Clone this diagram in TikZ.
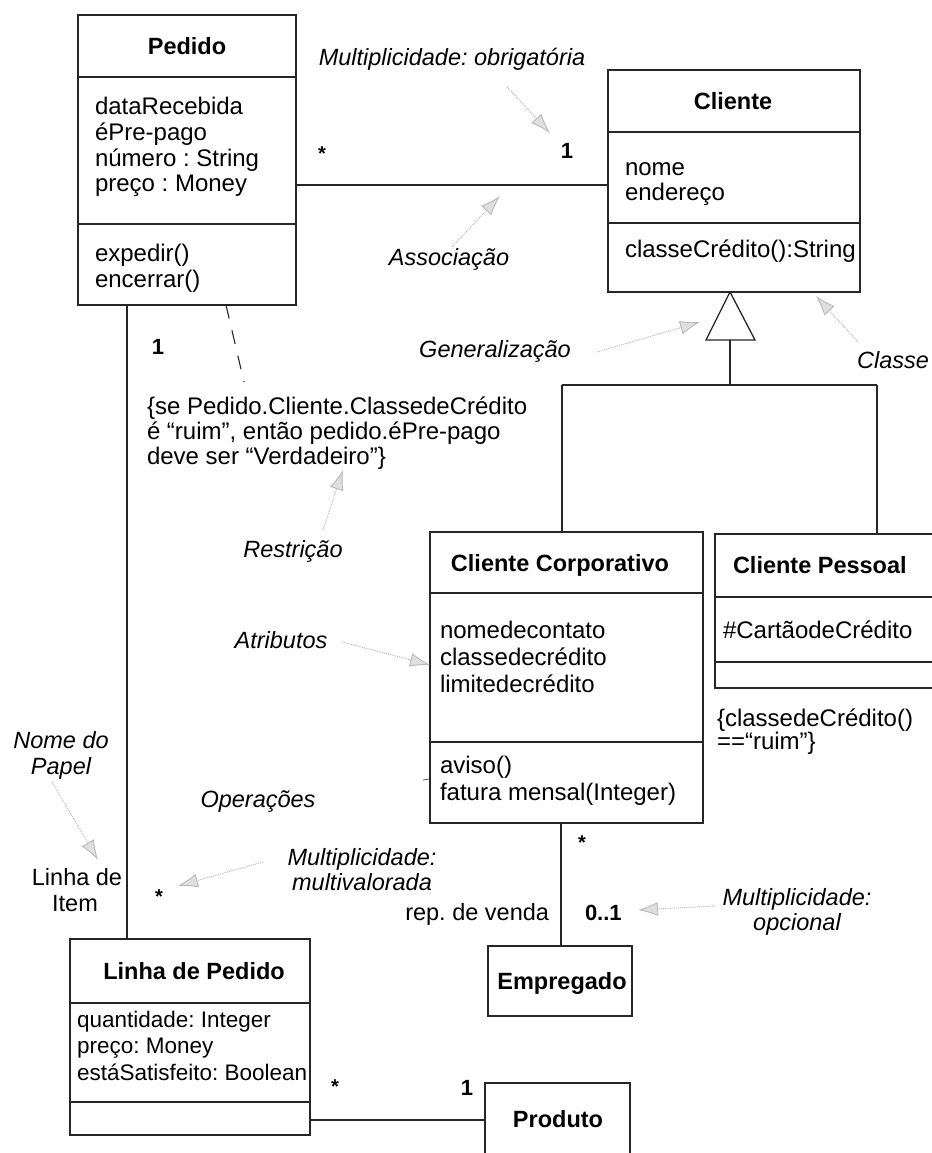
\documentclass[tikz,border=0pt]{standalone}
\usepackage{fontspec}
\setmainfont{Liberation Sans}
\usetikzlibrary{arrows.meta}
\frenchspacing
\begin{document}
\begin{tikzpicture}[x=1pt,y=-1pt,
  every node/.style={inner sep=0pt,outer sep=0pt},
  umlbox/.style={draw=black!85,line width=1.3pt,rectangle,inner sep=0pt},
  conn/.style={draw=black!85,line width=1.3pt},
  txt/.style={anchor=base west,font=\fontsize{24}{26}\selectfont},
  smalltxt/.style={anchor=base west,font=\fontsize{22.5}{26}\selectfont},
  ttl/.style={anchor=base,font=\fontsize{23.5}{26}\selectfont\bfseries},
  lbl/.style={anchor=base,font=\fontsize{23.5}{26}\selectfont\itshape},
  plain/.style={anchor=base,font=\fontsize{23.5}{26}\selectfont},
  mult/.style={anchor=base,font=\fontsize{22}{26}\selectfont\bfseries},
  star/.style={anchor=base,font=\fontsize{20}{22}\selectfont\bfseries},
  note/.style={draw=gray!60,line width=0.9pt,densely dotted,
     -{Latex[length=20pt,width=14pt,fill=gray!25,color=gray!55]}}]

\fill[white] (0,0) rectangle (931,1153);
\useasboundingbox (0,0) rectangle (931,1153);

% ---------- class boxes ----------
\node[umlbox,minimum width=218pt,minimum height=290pt] (pedido) at (187,160) {};
\draw[conn] ([yshift=-62pt]pedido.north west) -- ([yshift=-62pt]pedido.north east);
\draw[conn] ([yshift=-209pt]pedido.north west) -- ([yshift=-209pt]pedido.north east);

\node[umlbox,minimum width=252pt,minimum height=222pt] (cliente) at (734,181) {};
\draw[conn] ([yshift=-62pt]cliente.north west) -- ([yshift=-62pt]cliente.north east);
\draw[conn] ([yshift=-153pt]cliente.north west) -- ([yshift=-153pt]cliente.north east);

\node[umlbox,minimum width=273pt,minimum height=291pt] (corp) at (566.5,677.5) {};
\draw[conn] ([yshift=-61pt]corp.north west) -- ([yshift=-61pt]corp.north east);
\draw[conn] ([yshift=-210pt]corp.north west) -- ([yshift=-210pt]corp.north east);

\node[umlbox,minimum width=245pt,minimum height=154pt] (pessoal) at (837.5,611) {};
\draw[conn] ([yshift=-63pt]pessoal.north west) -- ([yshift=-63pt]pessoal.north east);
\draw[conn] ([yshift=-128pt]pessoal.north west) -- ([yshift=-128pt]pessoal.north east);

\node[umlbox,minimum width=240pt,minimum height=196pt] (linha) at (190,1037) {};
\draw[conn] ([yshift=-64pt]linha.north west) -- ([yshift=-64pt]linha.north east);
\draw[conn] ([yshift=-163pt]linha.north west) -- ([yshift=-163pt]linha.north east);

\node[umlbox,minimum width=144pt,minimum height=70pt] (empregado) at (560,981) {};
\node[umlbox,minimum width=145pt,minimum height=97pt] (produto) at (557.5,1131.5) {};

% ---------- class texts ----------
\node[ttl] (tP) at (187,55) {Pedido};
\node[txt] (p1) at (95,115) {dataRecebida};
\node[txt] (p2) at (95,140) {éPre-pago};
\node[txt] (p3) at (95,166) {número : String};
\node[txt] (p4) at (95,191) {preço : Money};
\node[txt] (p5) at (95,261) {expedir()};
\node[txt] (p6) at (95,287) {encerrar()};

\node[ttl] (tC) at (733,110) {Cliente};
\node[txt] (c1) at (625,175) {nome};
\node[txt] (c2) at (625,200) {endereço};
\node[txt] (c3) at (625,257) {classeCrédito():String};

\node[ttl] (tCC) at (560,571) {Cliente Corporativo};
\node[txt] (cc1) at (440,638) {nomedecontato};
\node[txt] (cc2) at (440,665) {classedecrédito};
\node[txt] (cc3) at (440,692) {limitedecrédito};
\node[txt] (cc4) at (440,773) {aviso()};
\node[txt] (cc5) at (440,800) {fatura mensal(Integer)};

\node[ttl,anchor=base west] (tCP) at (733,573) {Cliente Pessoal};
\node[txt] (cp1) at (723,638) {\#CartãodeCrédito};
\node[txt] (cp2) at (717,726) {\{classedeCrédito()};
\node[txt] (cp3) at (717,749) {==“ruim”\}};

\node[ttl] (tL) at (194,979) {Linha de Pedido};
\node[smalltxt] (l1) at (77,1027) {quantidade: Integer};
\node[smalltxt] (l2) at (77,1053) {preço: Money};
\node[smalltxt] (l3) at (77,1080) {estáSatisfeito: Boolean};

\node[ttl] (tE) at (562,989) {Empregado};
\node[ttl] (tPr) at (558,1127) {Produto};

% ---------- generalization ----------
\coordinate (gapex) at (730,292);
\coordinate (gbase) at (730,340);
\coordinate (gjoin) at (730,385);
\coordinate (gleft) at (562,385);
\coordinate (gright) at (877,385);
\draw[conn,fill=white] (gapex) -- (706,340) -- (755,340) -- cycle;
\draw[conn] (gbase) -- (gjoin);
\draw[conn] (gleft) -- (gright);
\draw[conn] (gleft) -- (gleft |- corp.north);
\draw[conn] (gright) -- (gright |- pessoal.north);

% ---------- associations ----------
\coordinate (apc) at (300,185);
\draw[conn] (pedido.east |- apc) -- (cliente.west |- apc);
\coordinate (apl) at (127,300);
\draw[conn] (apl |- pedido.south) -- (apl |- linha.north);
\coordinate (ace) at (561,800);
\draw[conn] (ace |- corp.south) -- (ace |- empregado.north);
\coordinate (alp) at (400,1120);
\draw[conn] (linha.east |- alp) -- (produto.west |- alp);

% constraint link
\coordinate (k1) at (226,305);
\coordinate (k2) at (244,382);
\draw[draw=black!85,line width=1.1pt,dash pattern=on 14pt off 12pt] (k1) -- (k2);

% ---------- multiplicities and roles ----------
\node[star] (s1) at (322,160) {*};
\node[mult] (m1) at (567,158) {1};
\node[mult] (m2) at (158,354) {1};
\node[star] (s2) at (159,903) {*};
\node[star] (s3) at (582,849) {*};
\node[mult,anchor=base west] (m3) at (585,920) {0..1};
\node[plain,anchor=base east] (role2) at (549,920) {rep. de venda};
\node[star] (s4) at (335,1093) {*};
\node[mult] (m4) at (467,1095) {1};
\node[plain] (role1a) at (77,885) {Linha de};
\node[plain] (role1b) at (75,911) {Item};

% constraint texts
\node[txt] (k3) at (147,414) {\{se Pedido.Cliente.ClassedeCrédito};
\node[txt] (k4) at (147,439) {é “ruim”, então pedido.éPre-pago};
\node[txt] (k5) at (147,464) {deve ser “Verdadeiro”\}};

% ---------- annotations ----------
\node[lbl] (a1) at (452,66) {Multiplicidade: obrigatória};
\node[lbl] (a2) at (449,265) {Associação};
\node[lbl] (a3) at (495,357) {Generalização};
\node[lbl,anchor=base east] (a4) at (929,368) {Classe};
\node[lbl] (a5) at (293,557) {Restrição};
\node[lbl] (a6) at (281,648) {Atributos};
\node[lbl] (a7) at (258,807) {Operações};
\node[lbl] (a8) at (61,748) {Nome do};
\node[lbl] (a9) at (61,774) {Papel};
\node[lbl] (a10) at (362,865) {Multiplicidade:};
\node[lbl] (a11) at (362,890) {multivalorada};
\node[lbl] (a12) at (797,905) {Multiplicidade:};
\node[lbl] (a13) at (797,930) {opcional};

\coordinate (n1s) at (507,87);  \coordinate (n1e) at (550,133);
\coordinate (n2s) at (452,247); \coordinate (n2e) at (500,196);
\coordinate (n3s) at (597,352); \coordinate (n3e) at (700,322);
\coordinate (n4s) at (858,342); \coordinate (n4e) at (816,296);
\coordinate (n5s) at (323,530); \coordinate (n5e) at (343,470);
\coordinate (n6s) at (342,642); \coordinate (n6e) at (430,665);
\coordinate (n7s) at (52,782);  \coordinate (n7e) at (98,860);
\coordinate (n8s) at (263,862); \coordinate (n8e) at (178,886);
\coordinate (n9s) at (715,906); \coordinate (n9e) at (638,910);
\foreach \i in {1,...,9} { \draw[note] (n\i s) -- (n\i e); }

% short tick beside the operations compartment
\coordinate (t1) at (423,780);
\coordinate (t2) at (429,779);
\draw[draw=black!70,line width=0.8pt] (t1) -- (t2);
\end{tikzpicture}
\end{document}
